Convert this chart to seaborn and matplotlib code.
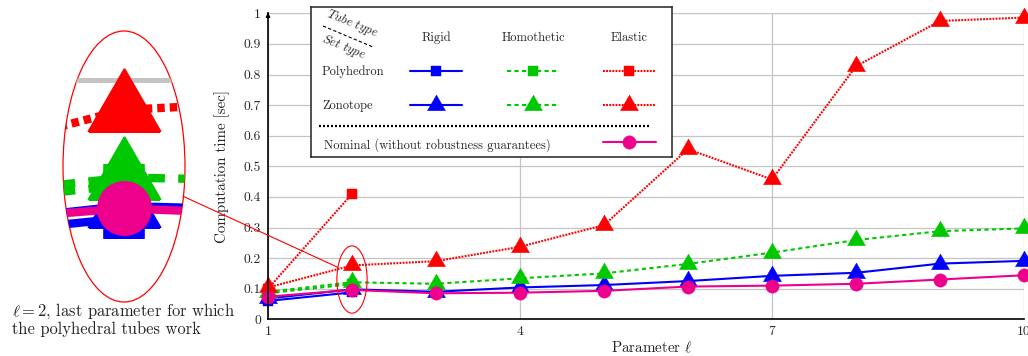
import numpy as np
import seaborn as sns
import matplotlib.pyplot as plt
from matplotlib.patches import Ellipse, ConnectionPatch

sns.set_style("white")
plt.rcParams['font.family'] = 'serif'
plt.rcParams['font.serif'] = ['cmr10', 'DejaVu Serif']
plt.rcParams['mathtext.fontset'] = 'cm'
plt.rcParams['axes.formatter.use_mathtext'] = True

# data
params = [1, 2, 3, 4, 5, 6, 7, 8, 9, 10]
poly_params = [1, 2]
rigid_poly = [0.060, 0.088]
homot_poly = [0.085, 0.115]
elastic_poly = [0.100, 0.410]
rigid_zono = [0.068, 0.098, 0.090, 0.104, 0.112, 0.125, 0.142, 0.152, 0.182, 0.191]
homot_zono = [0.090, 0.121, 0.116, 0.134, 0.150, 0.181, 0.218, 0.259, 0.288, 0.297]
elastic_zono = [0.104, 0.176, 0.190, 0.237, 0.308, 0.556, 0.457, 0.827, 0.975, 0.986]
nominal = [0.074, 0.096, 0.085, 0.087, 0.093, 0.107, 0.110, 0.116, 0.130, 0.144]

tube_types = ["Rigid", "Homothetic", "Elastic"]
set_types = ["Polyhedron", "Zonotope"]
x_ticks = [1, 4, 7, 10]
y_ticks = [0, 0.1, 0.2, 0.3, 0.4, 0.5, 0.6, 0.7, 0.8, 0.9, 1]

BLUE = '#0000ff'
GREEN = '#00c800'
RED = '#ff0000'
PINK = '#ec008c'
GRID = '#c4c4c4'
TRI = [(0, 1), (-0.866, -0.5), (0.866, -0.5), (0, 1)]

tube_style = {
    "Rigid": dict(color=BLUE, linestyle='-'),
    "Homothetic": dict(color=GREEN, linestyle=(0, (2.0, 1.6))),
    "Elastic": dict(color=RED, linestyle=(0, (0.9, 0.6))),
}
set_marker = {"Polyhedron": ('s', 7.2), "Zonotope": (TRI, 15)}

series = [
    ("Rigid", "Polyhedron", poly_params, rigid_poly),
    ("Homothetic", "Polyhedron", poly_params, homot_poly),
    ("Elastic", "Polyhedron", poly_params, elastic_poly),
    ("Rigid", "Zonotope", params, rigid_zono),
    ("Homothetic", "Zonotope", params, homot_zono),
    ("Elastic", "Zonotope", params, elastic_zono),
]


def draw_all(ax, k=1.0):
    for tube, st, xs, ys in series:
        m, ms = set_marker[st]
        sty = tube_style[tube]
        sns.lineplot(x=xs, y=ys, ax=ax, color=sty['color'], linestyle=sty['linestyle'],
                     linewidth=1.5 * k, marker=m, markersize=ms * k,
                     markeredgecolor=sty['color'], markeredgewidth=0.3 * k,
                     errorbar=None, clip_on=False)
    sns.lineplot(x=params, y=nominal, ax=ax, color=PINK, linewidth=1.5 * k, marker='o',
                 markersize=9.6 * k, markeredgecolor=PINK, markeredgewidth=0.3 * k,
                 errorbar=None, clip_on=False)


fig = plt.figure(figsize=(10.28, 3.56), dpi=100)
ax = fig.add_axes([268 / 1028, 1 - 319.3 / 356, 756 / 1028, 306 / 356])
draw_all(ax)
ax.set_xlim(1, 10)
ax.set_ylim(0, 1)
ax.set_xticks(x_ticks, labels=[str(t) for t in x_ticks])
ax.set_yticks(y_ticks, labels=[f"{t:g}" for t in y_ticks])
ax.tick_params(length=0, pad=5, labelsize=9.8)
ax.grid(True, color=GRID, linewidth=0.9)
ax.set_axisbelow(True)
for s in ['top', 'right']:
    ax.spines[s].set_visible(False)
for s in ['left', 'bottom']:
    ax.spines[s].set_color('black')
    ax.spines[s].set_linewidth(1.2)
ax.annotate('', xy=(0, 1.012), xytext=(0, 0.99), xycoords='axes fraction',
            arrowprops=dict(arrowstyle='-|>', color='black', lw=1, mutation_scale=6))
ax.set_xlabel(r"Parameter $\ell$", fontsize=10.8)
ax.set_ylabel("Computation time [sec]", fontsize=10.8)
ax.xaxis.set_label_coords(0.507, -0.068)
ax.yaxis.set_label_coords(-0.05, 0.5)

# small ellipse around l = 2
ax.add_patch(Ellipse((2, 0.13), 0.36, 0.22, fill=False, ec=RED, lw=0.8, zorder=10))

# magnified view
ax_in = fig.add_axes([63 / 1028, 1 - 302 / 356, 122 / 1028, 271 / 356])
ax_in.axhline(0.2, color=GRID, linewidth=0.9 * 4)
draw_all(ax_in, 4)
ax_in.set_xlim(2 - 0.18, 2 + 0.18)
ax_in.set_ylim(0.13 - 0.11, 0.13 + 0.11)
ax_in.axis('off')
ell = Ellipse((0.5, 0.5), 1, 1, transform=ax_in.transAxes, fill=False, ec=RED, lw=0.9)
ax_in.add_patch(ell)
ell.set_clip_on(False)
for ln in ax_in.lines:
    ln.set_clip_on(True)
    ln.set_clip_path(ell)

con = ConnectionPatch(xyA=(0.985, 0.39), coordsA=ax_in.transAxes,
                      xyB=(1.83, 0.17), coordsB=ax.transData, color=RED, lw=0.8)
fig.add_artist(con)

fig.text(12 / 1028, 1 - 301 / 356, "$\\ell = 2$, last parameter for which\nthe polyhedral tubes work",
         ha='left', va='top', fontsize=11.9, linespacing=1.0)

# hand-made legend table
lg = fig.add_axes([311 / 1028, 1 - 157 / 356, 361 / 1028, 150 / 356], zorder=5)
lg.set_xlim(0, 361)
lg.set_ylim(150, 0)
lg.set_xticks([])
lg.set_yticks([])
lg.set_facecolor('white')
for s in lg.spines.values():
    s.set_color('#222222')
    s.set_linewidth(1.1)

lg.text(41, 17, r"$\mathit{Tube\ type}$", rotation=-22, ha='center', va='center', fontsize=9.2)
lg.text(33, 40, r"$\mathit{Set\ type}$", rotation=-22, ha='center', va='center', fontsize=9.2)
lg.plot([12, 62], [19, 40], color='black', lw=0.8, linestyle=(0, (3, 2)))

col_x = {"Rigid": 125, "Homothetic": 222, "Elastic": 318}
row_y = {"Polyhedron": 64, "Zonotope": 98}
for tube in tube_types:
    lg.text(col_x[tube], 31, tube, ha='center', va='center', fontsize=9)
for st in set_types:
    lg.text(11, row_y[st] + 1, st, ha='left', va='center', fontsize=9)
    m, ms = set_marker[st]
    for tube in tube_types:
        sty = tube_style[tube]
        cx = col_x[tube]
        lg.plot([cx - 26, cx + 26], [row_y[st], row_y[st]], color=sty['color'],
                linestyle=sty['linestyle'], lw=1.5)
        lg.plot([cx], [row_y[st]], marker=m, markersize=ms, color=sty['color'],
                mec=sty['color'], mew=0.3, linestyle='none')

lg.plot([8, 340], [119, 119], color='black', lw=1.6, linestyle=(0, (0.9, 0.9)))
lg.text(13, 138, "Nominal (without robustness guarantees)", ha='left', va='center', fontsize=9)
lg.plot([292, 345], [135, 135], color=PINK, lw=1.5)
lg.plot([318], [135], marker='o', markersize=9.6, color=PINK, mec=PINK, mew=0.3)

fig.savefig('out.png', dpi=100)
